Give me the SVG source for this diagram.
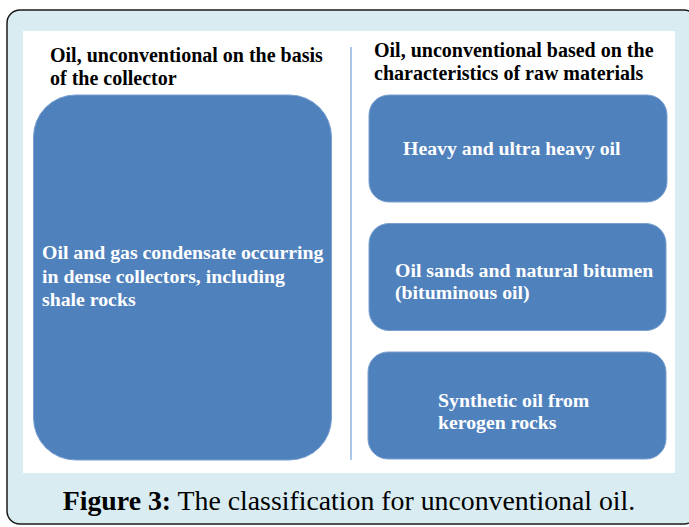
<svg xmlns="http://www.w3.org/2000/svg" width="689" height="527" viewBox="0 0 689 527">
<style>
.hdr{font-family:"Liberation Serif",serif;font-weight:bold;font-size:20px;fill:#000}
.box{fill:#4f81bd;stroke:#7aa0d0;stroke-width:1}
.bt{font-family:"Liberation Serif",serif;font-weight:bold;font-size:19.8px;fill:#fff}
.cap{font-family:"Liberation Serif",serif;font-size:27.8px;fill:#000}
</style>
<rect x="7" y="10" width="690" height="514" rx="13" fill="#d8ecf1" stroke="#1a1a1a" stroke-width="1.5"/>
<rect x="23" y="31" width="652" height="442" fill="#ffffff"/>
<g id="headers">
<text class="hdr" x="50" y="62">Oil, unconventional on the basis</text>
<text class="hdr" x="50" y="85">of the collector</text>
<text class="hdr" x="374" y="57">Oil, unconventional based on the</text>
<text class="hdr" x="374" y="80">characteristics of raw materials</text>
</g>
<g id="connectors">
<line x1="351" y1="47" x2="351" y2="460" stroke="#8eb4e3" stroke-width="1.5"/>
</g>
<g id="node-collector">
<rect class="box" x="33.5" y="95" width="298" height="365" rx="42"/>
<text class="bt" x="42" y="259">Oil and gas condensate occurring</text>
<text class="bt" x="42" y="283">in dense collectors, including</text>
<text class="bt" x="42" y="306">shale rocks</text>
</g>
<g id="node-heavy">
<rect class="box" x="369" y="95" width="298" height="107" rx="20"/>
<text class="bt" x="403" y="155">Heavy and ultra heavy oil</text>
</g>
<g id="node-sands">
<rect class="box" x="369" y="223.5" width="297" height="107" rx="20"/>
<text class="bt" x="395" y="277">Oil sands and natural bitumen</text>
<text class="bt" x="395" y="299">(bituminous oil)</text>
</g>
<g id="node-synthetic">
<rect class="box" x="368" y="352" width="298" height="107" rx="20"/>
<text class="bt" x="438" y="407">Synthetic oil from</text>
<text class="bt" x="438" y="429">kerogen rocks</text>
</g>
<text class="cap" x="349" y="510" text-anchor="middle"><tspan font-weight="bold">Figure 3:</tspan> The classification for unconventional oil.</text>
</svg>
